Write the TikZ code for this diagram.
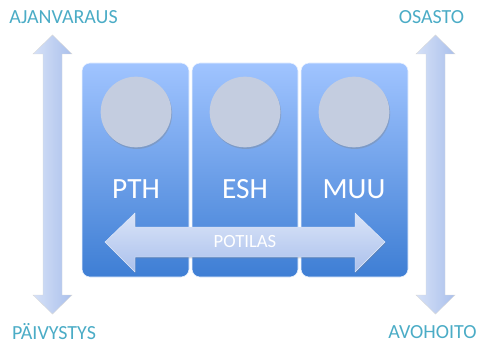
\documentclass[tikz,border=0pt]{standalone}
\usepackage{fontspec}
\setmainfont{Carlito}
\usetikzlibrary{shadows}
\definecolor{paneltop}{RGB}{160,196,255}
\definecolor{panelbot}{RGB}{62,126,212}
\definecolor{circfill}{RGB}{196,205,224}
\definecolor{arrowlight}{RGB}{214,225,247}
\definecolor{arrowdark}{RGB}{170,192,236}
\definecolor{labelteal}{RGB}{75,172,198}
\tikzset{
  panel/.style={rounded corners=6pt, top color=paneltop, bottom color=panelbot, draw=white!80!paneltop, line width=0.4pt},
  circ/.style={circle, fill=circfill, minimum size=53pt, inner sep=0, drop shadow={shadow xshift=0.6pt, shadow yshift=-1.2pt, opacity=0.35}},
  ptext/.style={text=white, font=\fontsize{22}{24}\selectfont},
  vlabel/.style={text=labelteal, font=\fontsize{15}{17}\selectfont},
  varrow/.style={left color=arrowlight, right color=arrowdark, draw=gray!30, line width=0.3pt},
  harrow/.style={top color=arrowlight!90!white, bottom color=arrowdark, draw=white!70!arrowdark, line width=0.3pt, drop shadow={shadow xshift=0.5pt, shadow yshift=-1pt, opacity=0.3}}
}
\begin{document}
\begin{tikzpicture}[x=0.75pt, y=-0.75pt]
\useasboundingbox (0,0) rectangle (481,345);
% panels
\path[panel] (82,63) rectangle (189,277);
\path[panel] (192,63) rectangle (298,277);
\path[panel] (301,63) rectangle (408,277);
% circles
\node[circ] (c1) at (136,112) {};
\node[circ] (c2) at (245,112) {};
\node[circ] (c3) at (354,112) {};
% panel texts
\node[ptext] (pth) at (136,189) {PTH};
\node[ptext] (esh) at (245,189) {ESH};
\node[ptext] (muu) at (354,189) {MUU};
% horizontal double arrow
\path[harrow] (105,242) -- (135,213) -- (135,227) -- (355,227) -- (355,213) -- (385,242)
  -- (355,272) -- (355,257) -- (135,257) -- (135,272) -- cycle;
\node[text=white, font=\fontsize{14}{16}\selectfont] (pot) at (245,242) {POTILAS};
% vertical arrows
\path[varrow] (52.5,35) -- (72,54) -- (62,54) -- (62,295) -- (72,295) -- (52.5,314)
  -- (33,295) -- (43,295) -- (43,54) -- (33,54) -- cycle;
\path[varrow] (435.5,35) -- (455,54) -- (445,54) -- (445,295) -- (455,295) -- (435.5,314)
  -- (416,295) -- (426,295) -- (426,54) -- (416,54) -- cycle;
% labels
\node[vlabel] (aj) at (63.5,17) {AJANVARAUS};
\node[vlabel] (os) at (431.5,17) {OSASTO};
\node[vlabel] (pa) at (54,332) {PÄIVYSTYS};
\node[vlabel] (av) at (432.5,332) {AVOHOITO};
\end{tikzpicture}
\end{document}
